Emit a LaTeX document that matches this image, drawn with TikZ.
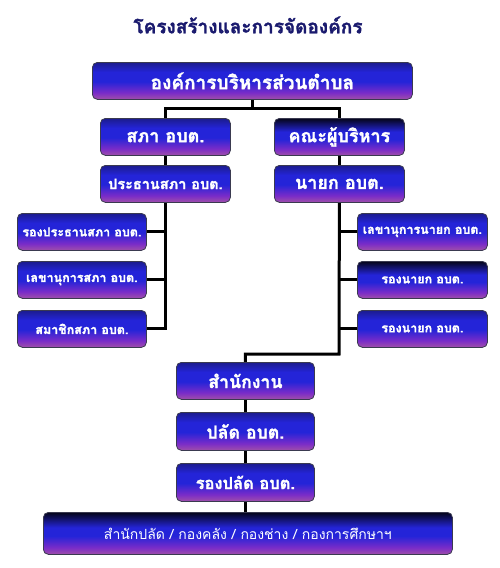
\documentclass[tikz,border=0pt]{standalone}
\usepackage{fontspec}
\usetikzlibrary{backgrounds}
\newfontfamily\thaifont[Script=Thai, BoldFeatures={FakeBold=1.6}]{Loma}
\newfontfamily\thaiplain[Script=Thai]{Loma}
\definecolor{titlecol}{HTML}{1A1A6E}
\definecolor{btop}{HTML}{1C1C8E}
\definecolor{bblue}{HTML}{2424D8}
\definecolor{bviolet}{HTML}{7A2CC8}
\definecolor{bpurple}{HTML}{A050A8}
\definecolor{bblack}{HTML}{05051A}
\definecolor{bedge}{HTML}{3A3A50}
\pgfdeclareverticalshading{boxshade}{100bp}{color(0bp)=(bpurple); color(25bp)=(bpurple); color(34bp)=(bviolet); color(49bp)=(bblue); color(62bp)=(bblue); color(75bp)=(btop); color(100bp)=(btop)}
\pgfdeclareverticalshading{darkshade}{100bp}{color(0bp)=(bpurple); color(25bp)=(bpurple); color(33bp)=(bviolet); color(47bp)=(bblue); color(57bp)=(bblue); color(75bp)=(bblack); color(100bp)=(bblack)}
\tikzset{
  orgbox/.style={draw=bedge, line width=0.8pt, rounded corners=5pt, shading=boxshade,
    text=white, font=\thaifont\bfseries\fontsize{#1}{#1}\selectfont, inner sep=0pt, anchor=north west},
  darkbox/.style={orgbox=#1, shading=darkshade},
  link/.style={draw=black, line width=3pt},
}
\begin{document}
\begin{tikzpicture}[x=1pt,y=-1pt]
\useasboundingbox (0,0) rectangle (500,568);
\node[text=titlecol, font=\thaifont\bfseries\fontsize{19}{19}\selectfont] (title) at (248,25) {โครงสร้างและการจัดองค์กร};
% boxes
\node[orgbox=19, minimum width=320pt, minimum height=37pt] (top) at (92,62) {องค์การบริหารส่วนตำบล};
\node[orgbox=18, minimum width=130pt, minimum height=37pt] (sapha) at (100,118) {สภา อบต.};
\node[darkbox=18, minimum width=130pt, minimum height=37pt] (khana) at (274,118) {คณะผู้บริหาร};
\node[orgbox=14.5, minimum width=130pt, minimum height=37pt] (prathan) at (100,165) {ประธานสภา อบต.};
\node[orgbox=18, minimum width=130pt, minimum height=37pt] (nayok) at (274,165) {นายก อบต.};
\node[orgbox=12.5, minimum width=129pt, minimum height=37pt] (rongprathan) at (17,213) {รองประธานสภา อบต.};
\node[orgbox=12.5, minimum width=129pt, minimum height=37pt] (lekhasapha) at (17,261) {เลขานุการสภา อบต.};
\node[orgbox=12.5, minimum width=129pt, minimum height=37pt] (samachik) at (17,310) {สมาชิกสภา อบต.};
\node[orgbox=12.5, minimum width=130pt, minimum height=37pt] (lekhanayok) at (357,213) {เลขานุการนายก อบต.};
\node[darkbox=12.5, minimum width=130pt, minimum height=37pt] (rongnayok1) at (357,261) {รองนายก อบต.};
\node[orgbox=12.5, minimum width=130pt, minimum height=37pt] (rongnayok2) at (357,310) {รองนายก อบต.};
\node[orgbox=17.7, minimum width=138pt, minimum height=37pt] (office) at (176,362) {สำนักงาน};
\node[orgbox=17.7, minimum width=138pt, minimum height=38pt] (palad) at (176,412) {ปลัด อบต.};
\node[orgbox=16.5, minimum width=138pt, minimum height=38pt] (rongpalad) at (176,463) {รองปลัด อบต.};
\node[darkbox=14, minimum width=409pt, minimum height=42pt, font=\thaiplain\fontsize{14}{14}\selectfont] (divisions) at (43,512) {สำนักปลัด / กองคลัง / กองช่าง / กองการศึกษาฯ};
% connectors
\coordinate (split) at (252,108);
\coordinate (turn) at (339,354);
\begin{scope}[on background layer]
\draw[link] (top.south -| split) -- (split);
\draw[link] (sapha.north) |- (split) -| (khana.north);
\draw[link] (sapha.south) -- (prathan.north);
\draw[link] (khana.south) -- (nayok.north);
\draw[link] (prathan.south) -- (prathan.south |- samachik.east) -- (samachik.east);
\draw[link] (rongprathan.east) -- (rongprathan.east -| prathan.south);
\draw[link] (lekhasapha.east) -- (lekhasapha.east -| prathan.south);
\draw[link] (nayok.south) -- (turn) -| (office.north);
\draw[link] (lekhanayok.west) -- (lekhanayok.west -| nayok.south);
\draw[link] (rongnayok1.west) -- (rongnayok1.west -| nayok.south);
\draw[link] (rongnayok2.west) -- (rongnayok2.west -| nayok.south);
\draw[link] (office.south) -- (palad.north);
\draw[link] (palad.south) -- (rongpalad.north);
\draw[link] (rongpalad.south) -- (rongpalad.south |- divisions.north);
\end{scope}
\end{tikzpicture}
\end{document}
